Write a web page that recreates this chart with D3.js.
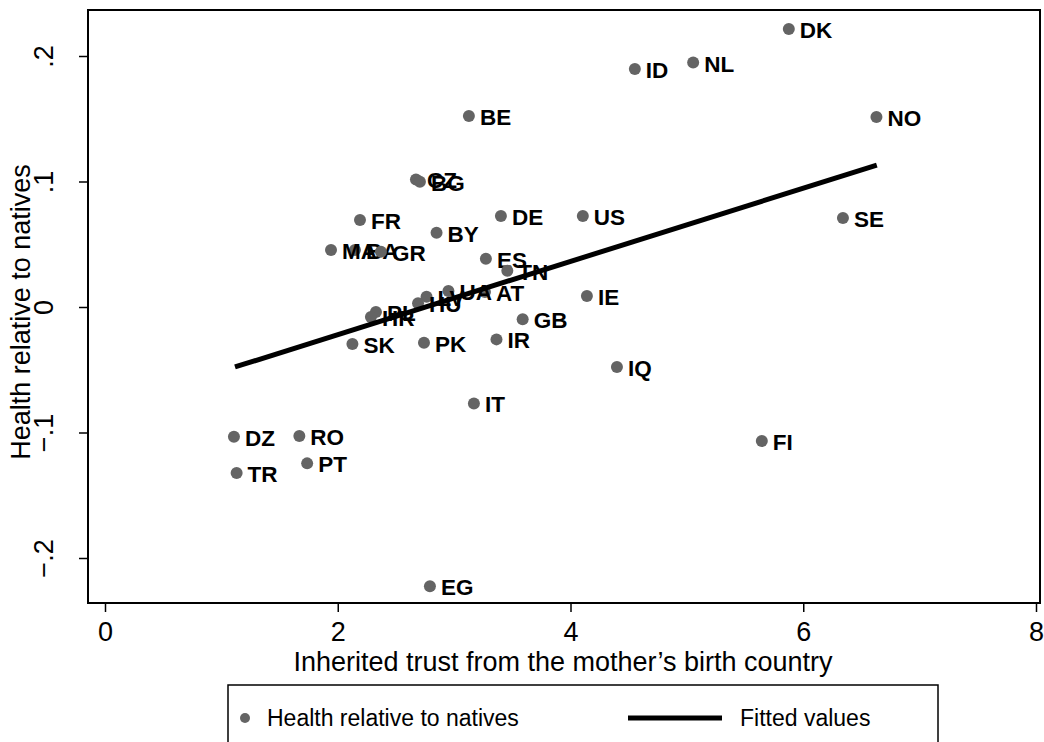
<!DOCTYPE html>
<html><head><meta charset="utf-8">
<script src="https://cdn.jsdelivr.net/npm/d3@7"></script>
<style>body{margin:0;background:#fff}svg{display:block}</style>
</head><body>
<svg id="c" width="1044" height="742"></svg>
<script>
const countries = ["DK","NL","ID","BE","NO","CZ","BG","FR","DE","US","SE","BY","BA","MA","GR","ES","TN","AT","UA","LV","HU","PL","HR","IE","GB","IR","PK","SK","IQ","IT","FI","DZ","RO","PT","TR","EG"];
const trust = [5.876,5.054,4.553,3.127,6.629,2.672,2.706,2.191,3.402,4.106,6.341,2.849,2.148,1.942,2.371,3.273,3.457,3.265,2.951,2.763,2.690,2.328,2.285,4.141,3.589,3.364,2.741,2.126,4.399,3.170,5.644,1.108,1.670,1.737,1.131,2.792];
const health = [0.2215,0.1948,0.1896,0.1522,0.1514,0.1016,0.0998,0.0693,0.0725,0.0725,0.0709,0.0592,0.0454,0.0454,0.0441,0.0385,0.0289,0.0120,0.0127,0.0082,0.0029,-0.0040,-0.0080,0.0088,-0.0098,-0.0258,-0.0285,-0.0295,-0.0478,-0.0768,-0.1068,-0.1033,-0.1027,-0.1246,-0.1322,-0.2226];
const fitX = [1.117, 6.632];
const fitY = [-0.0478, 0.1131];
const xTicks = [0,2,4,6,8];
const yTicks = [-0.2,-0.1,0,0.1,0.2];
const yTickLabels = ["\u2212.2","\u2212.1","0",".1",".2"];

const svg = d3.select("#c");
const font = "'Liberation Sans', Arial, sans-serif";
const frame = {l:88, t:10, r:1040, b:603};
const x = d3.scaleLinear().domain([0,8]).range([105,1036]);
const y = d3.scaleLinear().domain([-0.2,0.2]).range([558,56]);

svg.append("rect").attr("x",frame.l).attr("y",frame.t).attr("width",frame.r-frame.l).attr("height",frame.b-frame.t)
  .attr("fill","none").attr("stroke","#000").attr("stroke-width",2);

const xa = svg.append("g").attr("transform",`translate(0,${frame.b})`)
  .call(d3.axisBottom(x).tickValues(xTicks).tickFormat(d3.format("d")).tickSize(9).tickPadding(10));
xa.select(".domain").remove();
xa.selectAll("line").attr("stroke","#000").attr("stroke-width",1.5);
xa.selectAll("text").attr("font-family",font).attr("font-size",27).attr("fill","#000");

const ya = svg.append("g").attr("transform",`translate(${frame.l},0)`)
  .call(d3.axisLeft(y).tickValues(yTicks).tickFormat((d,i)=>yTickLabels[i]).tickSize(9));
ya.select(".domain").remove();
ya.selectAll("line").attr("stroke","#000").attr("stroke-width",1.5);
ya.selectAll("text").attr("font-family",font).attr("font-size",27).attr("fill","#000")
  .attr("text-anchor","middle").attr("dy",null).attr("x",0).attr("y",-35)
  .attr("transform","rotate(-90)");

svg.append("text").attr("x",563).attr("y",671).attr("text-anchor","middle")
  .attr("font-family",font).attr("font-size",27).text("Inherited trust from the mother\u2019s birth country");
svg.append("text").attr("transform",`translate(30,${312}) rotate(-90)`).attr("text-anchor","middle")
  .attr("font-family",font).attr("font-size",27).text("Health relative to natives");

const data = countries.map((c,i)=>({c, x:trust[i], y:health[i]}));
const pg = svg.append("g");
data.forEach(d=>{
  pg.append("circle").attr("cx",x(d.x)).attr("cy",y(d.y)).attr("r",6).attr("fill","#646464");
  pg.append("text").attr("x",x(d.x)+11).attr("y",y(d.y)+9).attr("font-family",font)
    .attr("font-weight","bold").attr("font-size",22.5).attr("fill","#000").text(d.c);
});

const line = d3.line().x(d=>x(d[0])).y(d=>y(d[1]));
svg.append("path").datum(fitX.map((v,i)=>[v,fitY[i]])).attr("d",line)
  .attr("fill","none").attr("stroke","#000").attr("stroke-width",5);

const lg = svg.append("g");
lg.append("rect").attr("x",228).attr("y",685).attr("width",710).attr("height",70)
  .attr("fill","#fff").attr("stroke","#000").attr("stroke-width",1.5);
lg.append("circle").attr("cx",245).attr("cy",718).attr("r",5).attr("fill","#646464");
lg.append("text").attr("x",267).attr("y",726).attr("font-family",font).attr("font-size",23).text("Health relative to natives");
lg.append("line").attr("x1",628).attr("x2",722).attr("y1",718).attr("y2",718).attr("stroke","#000").attr("stroke-width",5);
lg.append("text").attr("x",740).attr("y",726).attr("font-family",font).attr("font-size",23).text("Fitted values");
</script>
</body></html>
